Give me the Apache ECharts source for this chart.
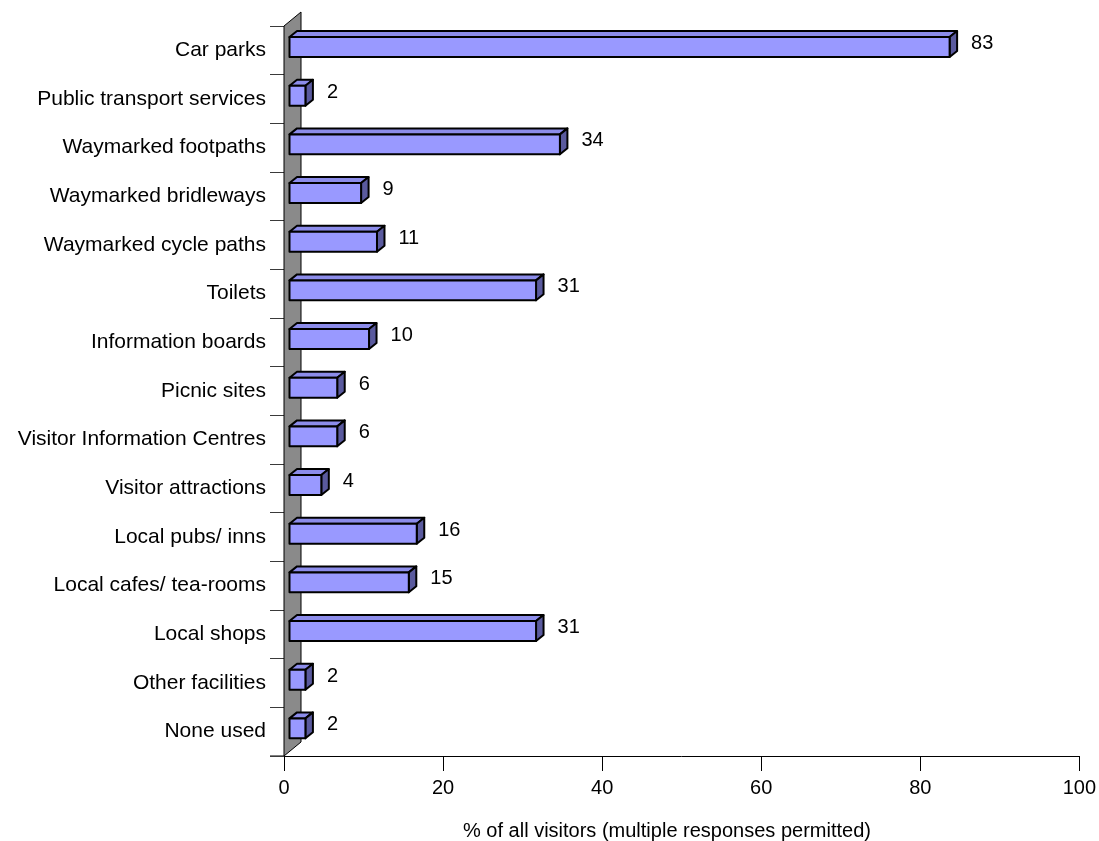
<!DOCTYPE html>
<html>
<head>
<meta charset="utf-8">
<script src="https://cdn.jsdelivr.net/npm/echarts@6/dist/echarts.min.js"></script>
<style>
  html, body { margin: 0; padding: 0; background: #ffffff; }
  #chart { width: 1099px; height: 841px; }
</style>
</head>
<body>
<div id="chart"></div>
<script>
// Facilities used during the visit
const categories = [
  'Car parks',
  'Public transport services',
  'Waymarked footpaths',
  'Waymarked bridleways',
  'Waymarked cycle paths',
  'Toilets',
  'Information boards',
  'Picnic sites',
  'Visitor Information Centres',
  'Visitor attractions',
  'Local pubs/ inns',
  'Local cafes/ tea-rooms',
  'Local shops',
  'Other facilities',
  'None used'
];
const percentages = [83, 2, 34, 9, 11, 31, 10, 6, 6, 4, 16, 15, 31, 2, 2];
const axisTitle = '% of all visitors (multiple responses permitted)';

const FONT = 'Liberation Sans, Arial, sans-serif';

// pseudo-3D geometry (pixels)
const WALL_DEPTH = [17, -14];
const BAR_FRONT = [5.5, -3.3];
const BAR_DEPTH = [7.5, -6];
const BAR_HEIGHT_RATIO = 0.41;

const chart = echarts.init(document.getElementById('chart'), null, { renderer: 'canvas' });

function renderWall(params, api) {
  const cs = params.coordSys;
  const x = cs.x, y = cs.y, h = cs.height;
  const dx = WALL_DEPTH[0], dy = WALL_DEPTH[1];
  return {
    type: 'polygon',
    shape: { points: [[x, y], [x + dx, y + dy], [x + dx, y + h + dy], [x, y + h]] },
    style: { fill: '#8a8a8a', stroke: '#000000', lineWidth: 1 }
  };
}

function renderBar(params, api) {
  const idx = api.value(1);
  const val = api.value(0);
  const p0 = api.coord([0, idx]);
  const p1 = api.coord([val, idx]);
  const band = api.size([0, 1])[1];
  const h = band * BAR_HEIGHT_RATIO;
  const x0 = p0[0] + BAR_FRONT[0];
  const x1 = p1[0] + BAR_FRONT[0];
  const yT = p0[1] + BAR_FRONT[1] - h / 2;
  const yB = yT + h;
  const dx = BAR_DEPTH[0], dy = BAR_DEPTH[1];
  const stroke = { stroke: '#000000', lineWidth: 2, lineJoin: 'round' };
  return {
    type: 'group',
    children: [
      {
        type: 'polygon',
        shape: { points: [[x0, yT], [x1, yT], [x1 + dx, yT + dy], [x0 + dx, yT + dy]] },
        style: Object.assign({ fill: '#8c8cea' }, stroke)
      },
      {
        type: 'polygon',
        shape: { points: [[x1, yT], [x1 + dx, yT + dy], [x1 + dx, yB + dy], [x1, yB]] },
        style: Object.assign({ fill: '#5a5a9e' }, stroke)
      },
      {
        type: 'rect',
        shape: { x: x0, y: yT, width: x1 - x0, height: h },
        style: Object.assign({ fill: '#9999ff' }, stroke)
      },
      {
        type: 'text',
        x: x1 + dx + 14,
        y: p0[1] - 7,
        style: {
          text: String(val),
          fill: '#000000',
          font: '20px ' + FONT,
          textAlign: 'left',
          textVerticalAlign: 'middle'
        }
      }
    ]
  };
}

const option = {
  animation: false,
  backgroundColor: '#ffffff',
  grid: { left: 284, right: 19, top: 26, bottom: 85, containLabel: false },
  xAxis: {
    type: 'value',
    min: 0,
    max: 100,
    interval: 20,
    axisLine: { show: true, lineStyle: { color: '#000000', width: 1 } },
    axisTick: { show: true, inside: false, length: 15, lineStyle: { color: '#000000', width: 1 } },
    splitLine: { show: false },
    axisLabel: { color: '#000000', fontSize: 20, fontFamily: FONT, margin: 22 }
  },
  yAxis: {
    type: 'category',
    data: categories,
    inverse: true,
    boundaryGap: true,
    axisLine: { show: false },
    axisTick: { show: true, inside: false, length: 14, alignWithLabel: false, lineStyle: { color: '#3a3a3a', width: 1 } },
    splitLine: { show: false },
    axisLabel: { color: '#000000', fontSize: 21, fontFamily: FONT, margin: 18 }
  },
  graphic: [
    {
      type: 'text',
      left: 463,
      top: 821,
      style: { text: axisTitle, fill: '#000000', font: '20px ' + FONT }
    },
    {
      type: 'line',
      shape: { x1: 270, y1: 756, x2: 284, y2: 756 },
      style: { stroke: '#000000', lineWidth: 1 }
    }
  ],
  series: [
    {
      type: 'custom',
      name: 'wall',
      renderItem: renderWall,
      data: [[0, 0]],
      clip: false,
      silent: true,
      z: 1
    },
    {
      type: 'custom',
      name: 'bars',
      renderItem: renderBar,
      encode: { x: 0, y: 1 },
      data: percentages.map((v, i) => [v, i]),
      clip: false,
      z: 3
    }
  ]
};

chart.setOption(option);
</script>
</body>
</html>
